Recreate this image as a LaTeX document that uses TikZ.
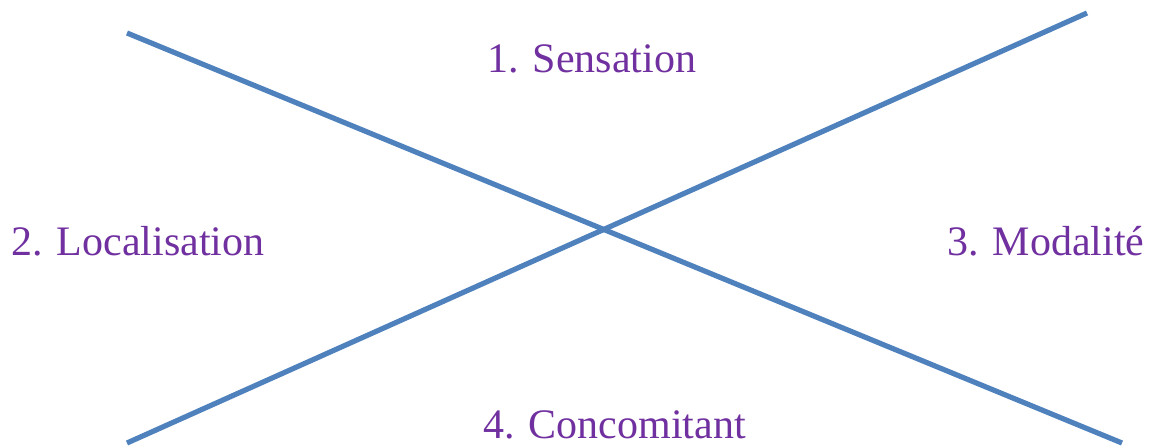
\documentclass[tikz,border=0pt]{standalone}
\usepackage{fontspec}
\setmainfont{Liberation Serif}
\definecolor{lineblue}{RGB}{79,129,189}
\definecolor{labpurple}{RGB}{112,48,160}
\begin{document}
\begin{tikzpicture}[x=0.5pt,y=-0.5pt,
  xline/.style={draw=lineblue,line width=2.6pt},
  lab/.style={text=labpurple,font=\fontsize{21}{25}\selectfont,inner sep=0pt}]
\useasboundingbox (0,0) rectangle (1157,445);
\coordinate (a1) at (127,33);
\coordinate (a2) at (1122,443);
\coordinate (b1) at (127,443);
\coordinate (b2) at (1087,13);
\draw[xline] (a1) -- (a2);
\draw[xline] (b1) -- (b2);
\node[lab,anchor=base west] (s) at (487,72) {1. Sensation};
\node[lab,anchor=base west] (l) at (11,255) {2. Localisation};
\node[lab,anchor=base east] (m) at (1145,255) {3. Modalité};
\node[lab,anchor=base west] (c) at (483,438) {4. Concomitant};
\end{tikzpicture}
\end{document}
